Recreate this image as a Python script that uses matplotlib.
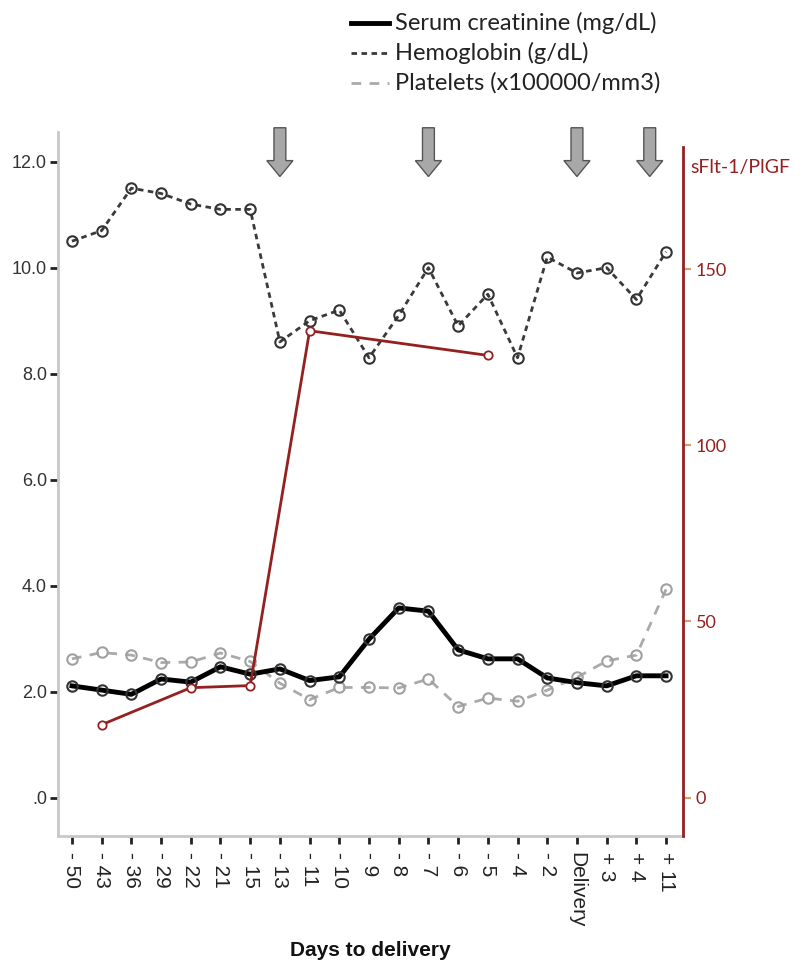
import numpy as np
import matplotlib
matplotlib.use('Agg')
import matplotlib.pyplot as plt
from matplotlib.lines import Line2D
from matplotlib.patches import FancyArrow

plt.rcParams['font.family'] = ['Liberation Sans', 'DejaVu Sans']

# data
days = ['- 50', '- 43', '- 36', '- 29', '- 22', '- 21', '- 15', '- 13', '- 11', '- 10',
        '- 9', '- 8', '- 7', '- 6', '- 5', '- 4', '- 2', 'Delivery', '+ 3', '+ 4', '+ 11']
creatinine = [2.11, 2.03, 1.95, 2.24, 2.18, 2.47, 2.33, 2.43, 2.21, 2.28, 2.99,
              3.58, 3.52, 2.79, 2.62, 2.62, 2.26, 2.17, 2.11, 2.30, 2.30]
hemoglobin = [10.5, 10.7, 11.5, 11.4, 11.2, 11.1, 11.1, 8.6, 9.0, 9.2, 8.3,
              9.1, 10.0, 8.9, 9.5, 8.3, 10.2, 9.9, 10.0, 9.4, 10.3]
platelets = [2.62, 2.74, 2.69, 2.55, 2.56, 2.73, 2.57, 2.16, 1.85, 2.08, 2.08,
             2.07, 2.24, 1.72, 1.88, 1.82, 2.03, 2.27, 2.58, 2.69, 3.93]
nan = np.nan
sflt_plgf = [nan, 20.7, nan, nan, 31.2, nan, 31.8, nan, 132.5, nan, nan,
             nan, nan, nan, 125.5, nan, nan, nan, nan, nan, nan]
# arrows above the plot (position on the day axis)
arrow_pos = [7, 12, 17, 19.45]

left_ticks = [0, 2, 4, 6, 8, 10, 12]
right_ticks = [0, 50, 100, 150]
legend_labels = ['Serum creatinine (mg/dL)', 'Hemoglobin (g/dL)', 'Platelets (x100000/mm3)']

dark_red = '#952020'
plt_dash = (0, (3.5, 3))
hb_dash = (0, (2, 1.6))

fig = plt.figure(figsize=(8.04, 9.66), dpi=100)
ax = fig.add_axes([58/804, 1 - 835.7/966, (683 - 58)/804, (835.7 - 132)/966])

x = np.arange(len(days))

ax.plot(x, hemoglobin, color='#3a3a3a', lw=2, linestyle=hb_dash,
        marker='o', ms=7.5, mfc='none', mec='#333333', mew=1.5, zorder=3)
ax.plot(x, platelets, color='#aaaaaa', lw=2, linestyle=plt_dash,
        marker='o', ms=7.5, mfc='none', mec='#a0a0a0', mew=1.5, zorder=3)
ax.plot(x, creatinine, color='black', lw=3.5, solid_joinstyle='round',
        marker='o', ms=7.5, mfc='none', mec='#333333', mew=1.5, zorder=4)

ax.set_xlim(-0.47, 20.57)
ax.set_ylim(-0.717, 12.56)
ax.set_xticks(x)
ax.set_xticklabels(days, rotation=270, fontsize=15, color='#222222', va='top')
ax.set_yticks(left_ticks)
ax.set_yticklabels(['.0' if v == 0 else '%.1f' % v for v in left_ticks],
                   fontsize=13, color='#333333')
ax.tick_params(axis='both', direction='out', length=6, width=2, color='#222222')
ax.tick_params(axis='x', pad=6)
ax.tick_params(axis='y', pad=2)
for s in ['top', 'right']:
    ax.spines[s].set_visible(False)
for s in ['left', 'bottom']:
    ax.spines[s].set_color('#c8c8c8')
    ax.spines[s].set_linewidth(2)

# arrows
for p in arrow_pos:
    ax.add_patch(FancyArrow(p, 12.64, 0, -0.92, width=0.40, head_width=0.88,
                            head_length=0.30, length_includes_head=True,
                            facecolor='#a8a8a8', edgecolor='#555555', lw=1,
                            clip_on=False, zorder=5))

# right axis
ax2 = ax.twinx()
sv = np.array(sflt_plgf)
m = ~np.isnan(sv)
ax2.plot(x[m], sv[m], color=dark_red, lw=2, marker='o', ms=6, mfc='white',
         mec=dark_red, mew=1.3, zorder=4)
ax2.set_ylim(-10.8, 188.9)
ax2.set_yticks(right_ticks)
ax2.set_yticklabels([str(v) for v in right_ticks], fontsize=13, color=dark_red,
                    family=['Lato', 'DejaVu Sans'])
ax2.tick_params(axis='y', direction='out', length=6, width=1.5, color='#c9a26a', pad=3)
for s in ['top', 'left', 'bottom']:
    ax2.spines[s].set_visible(False)
ax2.spines['right'].set_color(dark_red)
ax2.spines['right'].set_linewidth(2)
ax2.spines['right'].set_bounds(-10.8, 184.6)

fig.text(690/804, 1 - 167/966, 'sFlt-1/PlGF', color=dark_red, fontsize=14,
         family=['Lato', 'DejaVu Sans'], va='center', ha='left')

# legend drawn by hand at the top
leg_styles = [dict(color='black', lw=3.5),
              dict(color='#3a3a3a', lw=2, linestyle=hb_dash),
              dict(color='#aaaaaa', lw=2, linestyle=plt_dash)]
leg_y = [23, 53, 83]
for lab, st, yy in zip(legend_labels, leg_styles, leg_y):
    fy = 1 - yy/966
    fig.add_artist(Line2D([351/804, 389/804], [fy, fy], **st))
    fig.text(395/804, fy, lab, fontsize=17, color='#222222',
             family=['Lato', 'DejaVu Sans'], va='center', ha='left')

fig.text(370/804, 1 - 950/966, 'Days to delivery', fontsize=15, fontweight='bold',
         ha='center', va='center', color='#111111')

fig.savefig('out.png', dpi=100)
